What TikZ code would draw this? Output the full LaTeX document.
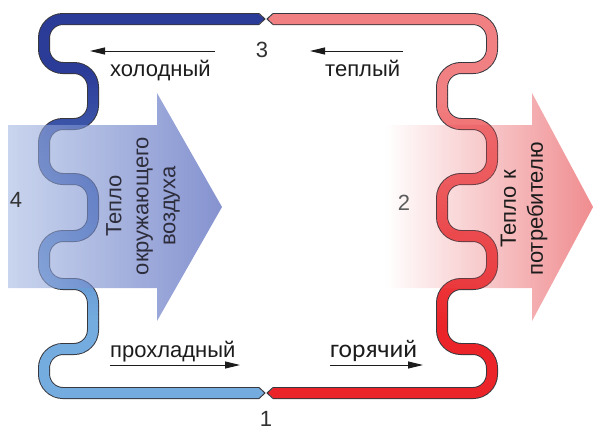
\documentclass[tikz,border=0pt]{standalone}
\usepackage{fontspec}
\setmainfont{Liberation Sans}
\newfontfamily\hotfont{Carlito}
\usetikzlibrary{arrows.meta,fadings}

% pipe colours (top and bottom of each branch)
\definecolor{blueTop}{RGB}{43,59,152}
\definecolor{blueBot}{RGB}{116,172,223}
\definecolor{redTop}{RGB}{241,128,130}
\definecolor{redBot}{RGB}{234,36,40}
\definecolor{pipeEdge}{RGB}{55,55,62}
% heat-flow arrows
\definecolor{airL}{RGB}{165,185,226}
\definecolor{airR}{RGB}{52,74,176}
\definecolor{heatC}{RGB}{231,79,84}
% text
\definecolor{txt}{RGB}{28,28,28}
\definecolor{numc}{RGB}{50,50,50}
\definecolor{arrtxt}{RGB}{45,45,60}

\tikzfading[name=fadefromleft, left color=transparent!100, right color=transparent!0]

\tikzset{
  pipeedge/.style={line width=12pt, draw=pipeEdge, rounded corners=19pt},
  pipecore/.style={line width=10pt, rounded corners=19pt},
  tipedge/.style={line width=1pt, draw=pipeEdge},
  flow/.style={line width=0.9pt, draw=txt, -{Triangle[length=15pt,width=7pt]}},
  lbl/.style={font=\fontsize{22}{26}\selectfont, text=txt, inner sep=0pt},
  num/.style={font=\fontsize{22}{26}\selectfont, text=numc, inner sep=0pt},
  heat/.style={rotate=90, align=center, font=\fontsize{22}{27}\selectfont, inner sep=0pt},
}

% routes of the two branches of the loop
\def\coldroute{(259,19) -- (44,19) -- (44,68) -- (93,68) -- (93,124) -- (44,124) -- (44,179) -- (93,179) -- (93,236) -- (44,236) -- (44,284) -- (93,284) -- (93,349) -- (44,349) -- (44,393) -- (259,393)}
\def\hotroute{(273,19) -- (492,19) -- (492,68) -- (442,68) -- (442,124) -- (492,124) -- (492,179) -- (442,179) -- (442,236) -- (492,236) -- (492,284) -- (442,284) -- (442,349) -- (492,349) -- (492,393) -- (273,393)}

\begin{document}
\begin{tikzpicture}[x=1pt,y=-1pt]
\useasboundingbox (0,0) rectangle (593,431);

% ---- pipe outlines
\draw[pipeedge] \coldroute;
\draw[pipeedge] \hotroute;

% ---- pipe cores, coloured in horizontal bands (vertical gradient)
\foreach \i in {0,...,97} {
  \pgfmathsetmacro\yA{12+4*\i}
  \pgfmathsetmacro\pb{max(0,min(100,(\yA-68)/2.5))}
  \pgfmathsetmacro\pr{max(0,min(100,(\yA-95)/2.3))}
  \begin{scope}
    \clip (0,\yA) rectangle (263,\yA+4.6);
    \draw[pipecore, draw=blueBot!\pb!blueTop] \coldroute;
  \end{scope}
  \begin{scope}
    \clip (270,\yA) rectangle (593,\yA+4.6);
    \draw[pipecore, draw=redBot!\pr!redTop] \hotroute;
  \end{scope}
}

% ---- pointed ends where the branches meet
\fill[blueTop] (258.5,14) -- (265,19) -- (258.5,24) -- cycle;
\draw[tipedge] (259,13.5) -- (265,19) -- (259,24.5);
\fill[redTop] (273.5,14) -- (267,19) -- (273.5,24) -- cycle;
\draw[tipedge] (273,13.5) -- (267,19) -- (273,24.5);
\fill[blueBot] (258.5,388) -- (265,393) -- (258.5,398) -- cycle;
\draw[tipedge] (259,387.5) -- (265,393) -- (259,398.5);
\fill[redBot] (273.5,388) -- (267,393) -- (273.5,398) -- cycle;
\draw[tipedge] (273,387.5) -- (267,393) -- (273,398.5);

% ---- heat-flow arrows
\shade[left color=airL, right color=airR, opacity=0.6]
  (8,125) -- (157,125) -- (157,93) -- (222,207) -- (157,321) -- (157,288) -- (8,288) -- cycle;
\fill[heatC, path fading=fadefromleft, fill opacity=0.65]
  (385,125) -- (532,125) -- (532,93) -- (593,207) -- (532,321) -- (532,288) -- (385,288) -- cycle;

\node[heat, text=arrtxt] (airheat) at (143,206) {Тепло\\окружающего\\воздуха};
\node[heat, text=txt] (userheat) at (524,209) {Тепло к\\потребителю};

% ---- flow direction labels
\node[lbl, anchor=base west] (cold) at (110,76) {холодный};
\node[lbl, anchor=base west] (warm) at (325,76) {теплый};
\node[lbl, anchor=base west] (cool) at (110,357) {прохладный};
\node[lbl, anchor=base west, font=\hotfont\fontsize{25.5}{29}\selectfont] (hot) at (330,357) {горячий};

\coordinate (coldS) at (215,51);  \coordinate (coldE) at (90,51);
\coordinate (warmS) at (403,51);  \coordinate (warmE) at (310,51);
\coordinate (coolS) at (110,365); \coordinate (coolE) at (240,365);
\coordinate (hotS)  at (330,365); \coordinate (hotE)  at (423,365);
\draw[flow] (coldS) -- (coldE);
\draw[flow] (warmS) -- (warmE);
\draw[flow] (coolS) -- (coolE);
\draw[flow] (hotS) -- (hotE);

% ---- state points
\node[num] (p3) at (262,50) {3};
\node[num] (p1) at (266,419) {1};
\node[num] (p4) at (16,200) {4};
\node[num, text=numc!80] (p2) at (404,203) {2};
\end{tikzpicture}
\end{document}
